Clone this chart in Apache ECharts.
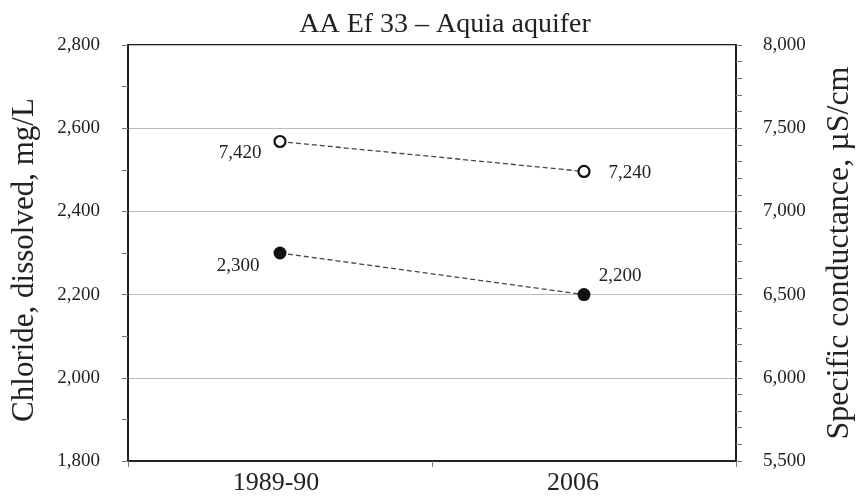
<!DOCTYPE html>
<html><head><meta charset="utf-8">
<script src="https://cdn.jsdelivr.net/npm/echarts@6/dist/echarts.min.js"></script>
<style>html,body{margin:0;padding:0;background:#fff}#c{width:856px;height:500px}</style>
</head><body><div id="c"></div>
<script>
const categories = ['1989-90', '2006'];
const chloride = [2300, 2200];
const conductance = [7420, 7240];
const leftTicks = [1800, 2800, 200];
const rightTicks = [5500, 8000, 500];

const font = 'Liberation Serif';
const chart = echarts.init(document.getElementById('c'));
const fmt = v => v.toLocaleString('en-US');
chart.setOption({
  animation: false,
  title: { text: 'AA Ef 33 – Aquia aquifer', left: 440, textAlign: 'center', top: 6,
    textStyle: { fontFamily: font, fontSize: 28, fontWeight: 'normal', color: '#222' } },
  grid: { left: 128, right: 120, top: 45, bottom: 39, show: true, borderColor: '#222', borderWidth: 2,
    containLabel: false, outerBoundsMode: 'none' },
  xAxis: { type: 'category', data: categories, boundaryGap: true,
    axisLine: { lineStyle: { color: '#222', width: 2 } },
    axisTick: { show: true, length: 6, lineStyle: { color: '#777' } },
    axisLabel: { fontFamily: font, fontSize: 26, color: '#222', margin: 9,
      formatter: v => v === categories[1] ? '{s|' + v + '}' : '{f|' + v + '}',
      rich: { s: { fontFamily: font, fontSize: 26, color: '#222', padding: [0, 22, 0, 0] },
              f: { fontFamily: font, fontSize: 26, color: '#222', padding: [0, 8, 0, 0] } } } },
  yAxis: [
    { type: 'value', min: leftTicks[0], max: leftTicks[1], interval: leftTicks[2],
      name: 'Chloride, dissolved, mg/L', nameLocation: 'middle', nameGap: 88, nameRotate: 90,
      nameTextStyle: { fontFamily: font, fontSize: 31, color: '#222', padding: [0, 14, 0, 0] },
      axisLine: { show: true, lineStyle: { color: '#222', width: 2 } },
      axisTick: { show: true, length: 6, lineStyle: { color: '#777' } },
      minorTick: { show: true, splitNumber: 2, length: 6, lineStyle: { color: '#777' } },
      axisLabel: { fontFamily: font, fontSize: 19, color: '#222', margin: 28, formatter: fmt },
      splitLine: { show: true, lineStyle: { color: '#bbb', width: 1.2 } } },
    { type: 'value', min: rightTicks[0], max: rightTicks[1], interval: rightTicks[2], position: 'right',
      name: 'Specific conductance, µS/cm', nameLocation: 'middle', nameGap: 88, nameRotate: 90,
      nameTextStyle: { fontFamily: font, fontSize: 32, color: '#222' },
      axisLine: { show: true, lineStyle: { color: '#222', width: 2 } },
      axisTick: { show: true, length: 6, lineStyle: { color: '#777' } },
      minorTick: { show: true, splitNumber: 5, length: 6, lineStyle: { color: '#777' } },
      axisLabel: { fontFamily: font, fontSize: 19, color: '#222', margin: 27, formatter: fmt },
      splitLine: { show: false } }
  ],
  series: [
    { type: 'line', yAxisIndex: 1, symbol: 'circle', symbolSize: 11,
      itemStyle: { color: '#fff', borderColor: '#111', borderWidth: 2.2 },
      lineStyle: { color: '#444', width: 1.3, type: [5, 3] },
      label: { show: true, fontFamily: font, fontSize: 19, color: '#222', formatter: p => fmt(p.value) },
      data: [
        { value: conductance[0], label: { position: 'left', offset: [-7, 12] } },
        { value: conductance[1], label: { position: 'right', offset: [13, 2] } }
      ] },
    { type: 'line', yAxisIndex: 0, symbol: 'circle', symbolSize: 13,
      itemStyle: { color: '#111', borderColor: '#111', borderWidth: 0 },
      lineStyle: { color: '#444', width: 1.3, type: [5, 3] },
      label: { show: true, fontFamily: font, fontSize: 19, color: '#222', formatter: p => fmt(p.value) },
      data: [
        { value: chloride[0], label: { position: 'left', offset: [-9, 13] } },
        { value: chloride[1], label: { position: 'top', offset: [36, 2] } }
      ] }
  ]
});
</script></body></html>
